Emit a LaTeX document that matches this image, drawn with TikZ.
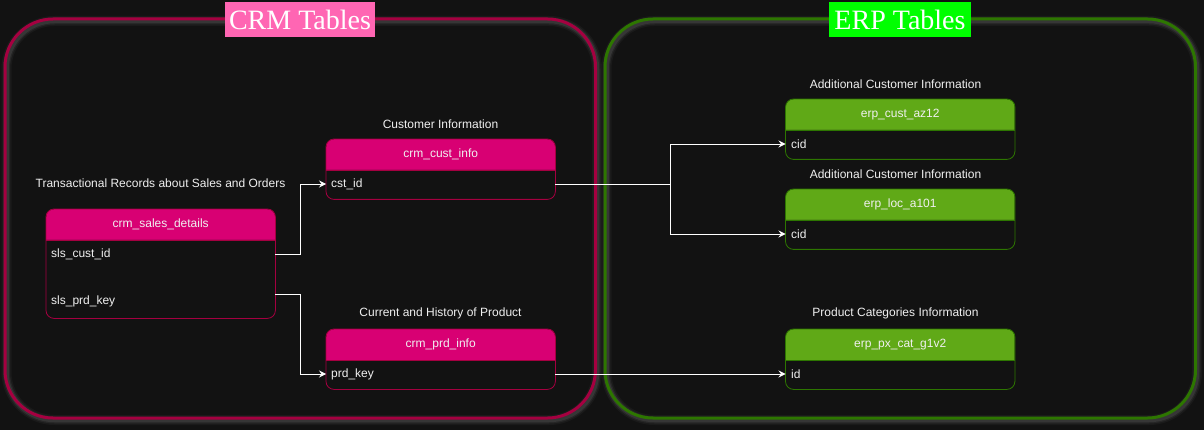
\documentclass[tikz,border=0pt]{standalone}
\usepackage{fontspec}
\setmainfont{Liberation Sans}
\newfontfamily\titleserif{Liberation Serif}
\usetikzlibrary{arrows.meta,calc}
\definecolor{bgc}{HTML}{121212}
\definecolor{crmborder}{HTML}{A50040}
\definecolor{crmhead}{HTML}{D80073}
\definecolor{erpborder}{HTML}{2D7600}
\definecolor{erphead}{HTML}{60A917}
\definecolor{crmtitlebg}{HTML}{FF66B3}
\definecolor{erptitlebg}{HTML}{00FF00}
\definecolor{txt}{HTML}{F0F0F0}
\tikzset{
  lbl/.style={text=txt, font=\fontsize{12}{14}\selectfont, inner sep=0pt},
  rowtxt/.style={text=txt, font=\fontsize{12}{14}\selectfont, inner sep=0pt, anchor=west},
  headtxt/.style={text=txt, font=\fontsize{12}{14}\selectfont, inner sep=0pt},
  tbl/.style={anchor=north west, minimum width=229pt, inner sep=0pt, rounded corners=8pt},
  tblcrm/.style={fill=crmhead},
  tblerp/.style={fill=erphead},
  bordercrm/.style={draw=crmborder, line width=0.8pt},
  bordererp/.style={draw=erpborder, line width=0.8pt},
  container/.style={line width=3pt, rounded corners=48pt},
  glow/.style={draw=gray, rounded corners=48pt},
  bigtitle/.style={text=white, font=\titleserif\fontsize{28}{30}\selectfont, minimum height=35pt, inner sep=0pt},
  conn/.style={draw=white, line width=0.9pt, -{Stealth[length=7pt,width=7pt,inset=2.5pt]}},
  link/.style={draw=white, line width=0.9pt},
}
\newcommand\dbtable[5]{% name, x, ytop, height, scheme
  \node[tbl, tbl#5, minimum height=#4] (#1) at (#2,#3) {};
  \fill[bgc] ($(#1.north west)+(0,31)$) [rounded corners=8pt] -- (#1.south west) -- (#1.south east) [sharp corners] -- ($(#1.north east)+(0,31)$) -- cycle;
  \draw[border#5, rounded corners=8pt] (#1.north west) rectangle (#1.south east);
  \draw[border#5] ($(#1.north west)+(0,31)$) -- ($(#1.north east)+(0,31)$);
}
\begin{document}
\begin{tikzpicture}[x=1pt,y=-1pt]
\useasboundingbox (0,0) rectangle (1204,430);
\fill[bgc] (0,0) rectangle (1204,430);

% glows
\foreach \w/\o in {10/0.08,7/0.12,4.5/0.18}{
  \draw[glow, line width=\w pt, opacity=\o] (6.5,21) rectangle (597,420);
  \draw[glow, line width=\w pt, opacity=\o] (606.5,21) rectangle (1197,420);
}
% containers
\draw[container, draw=crmborder] (5,19) rectangle (595.5,418);
\draw[container, draw=erpborder] (605,19) rectangle (1195.5,418);

\node[bigtitle, fill=crmtitlebg, minimum width=150pt] (crmtitle) at (300,19.5) {CRM Tables};
\node[bigtitle, fill=erptitlebg, minimum width=142pt] (erptitle) at (900,19.5) {ERP Tables};

% CRM tables
\dbtable{sales}{46}{209}{109pt}{crm}
\node[headtxt] (salesh) at ($(sales.north)+(0,15.5)$) {crm\_sales\_details};
\node[rowtxt] (slscust) at (51,254) {sls\_cust\_id};
\node[rowtxt] (slsprd) at (51,301) {sls\_prd\_key};
\node[lbl] (saleslbl) at (160.5,183) {Transactional Records about Sales and Orders};

\dbtable{cust}{326}{139}{60pt}{crm}
\node[headtxt] (custh) at ($(cust.north)+(0,15.5)$) {crm\_cust\_info};
\node[rowtxt] (cstid) at (331,184) {cst\_id};
\node[lbl] (custlbl) at (440.5,124) {Customer Information};

\dbtable{prd}{326}{329}{60pt}{crm}
\node[headtxt] (prdh) at ($(prd.north)+(0,15.5)$) {crm\_prd\_info};
\node[rowtxt] (prdkey) at (331,374) {prd\_key};
\node[lbl] (prdlbl) at (440.5,313) {Current and History of Product};

% ERP tables
\dbtable{az}{785.5}{99}{60pt}{erp}
\node[headtxt] (azh) at ($(az.north)+(0,15.5)$) {erp\_cust\_az12};
\node[rowtxt] (azcid) at (791,144) {cid};
\node[lbl] (azlbl) at (895.5,84) {Additional Customer Information};

\dbtable{loc}{785.5}{189}{60pt}{erp}
\node[headtxt] (loch) at ($(loc.north)+(0,15.5)$) {erp\_loc\_a101};
\node[rowtxt] (loccid) at (791,234) {cid};
\node[lbl] (loclbl) at (895.5,174) {Additional Customer Information};

\dbtable{cat}{785.5}{329}{60pt}{erp}
\node[headtxt] (cath) at ($(cat.north)+(0,15.5)$) {erp\_px\_cat\_g1v2};
\node[rowtxt] (catid) at (791,374) {id};
\node[lbl] (catlbl) at (895.5,313) {Product Categories Information};

% connectors
\coordinate (prdout) at (275,294);
\coordinate (split) at (670,184);
\draw[conn] (sales.east |- slscust) -- ++(25,0) |- (cust.west |- cstid);
\draw[conn] (prdout) -- ++(25,0) |- (prd.west |- prdkey);
\draw[link] (cust.east |- cstid) -- (split);
\draw[conn] (split) |- (az.west |- azcid);
\draw[conn] (split) |- (loc.west |- loccid);
\draw[conn] (prd.east |- prdkey) -- (cat.west |- catid);
\end{tikzpicture}
\end{document}
